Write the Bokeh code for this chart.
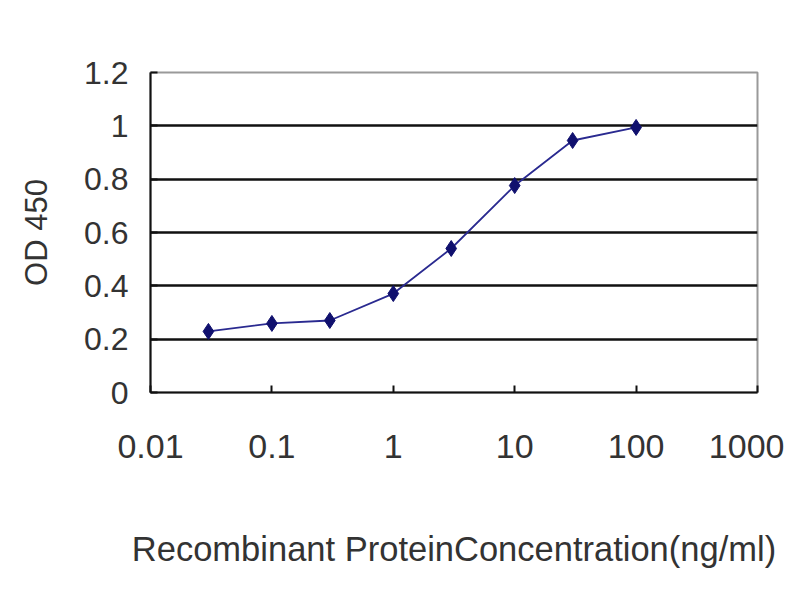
from bokeh.plotting import figure
from bokeh.embed import file_html
from bokeh.resources import INLINE
from bokeh.models import FixedTicker, NumeralTickFormatter, Range1d

conc = [0.03, 0.1, 0.3, 1, 3, 10, 30, 100]
od450 = [0.229, 0.259, 0.270, 0.371, 0.540, 0.776, 0.945, 0.994]
x_ticks = [0.01, 0.1, 1, 10, 100, 1000]
y_ticks = [0, 0.2, 0.4, 0.6, 0.8, 1.0, 1.2]

p = figure(width=784, height=584, x_axis_type="log",
           x_range=Range1d(0.01, 1000), y_range=Range1d(0, 1.2),
           output_backend="svg", toolbar_location=None,
           min_border_left=150, min_border_right=27,
           min_border_top=72, min_border_bottom=192)

p.background_fill_color = "white"
p.border_fill_color = "white"
p.outline_line_color = "#9a9a9a"
p.outline_line_width = 2

p.xgrid.grid_line_color = None
p.ygrid.ticker = FixedTicker(ticks=[0.2, 0.4, 0.6, 0.8, 1.0])
p.ygrid.grid_line_color = "#111111"
p.ygrid.grid_line_width = 2.5

for ax in (p.xaxis[0], p.yaxis[0]):
    ax.axis_line_color = "#111111"
    ax.axis_line_width = 2
    ax.major_tick_line_color = "#111111"
    ax.major_tick_line_width = 2
    ax.major_tick_in = 7
    ax.major_tick_out = 0
    ax.minor_tick_line_color = None
    ax.major_label_text_font = "Liberation Sans"
    ax.major_label_text_color = "#333333"
    ax.axis_label_text_font = "Liberation Sans"
    ax.axis_label_text_color = "#333333"
    ax.axis_label_text_font_style = "normal"

p.xaxis.ticker = FixedTicker(ticks=x_ticks)
p.xaxis.formatter = NumeralTickFormatter(format="0.[00]")
p.xaxis.major_label_text_font_size = "34px"
p.xaxis.major_label_standoff = 42
p.xaxis.axis_label = "Recombinant ProteinConcentration(ng/ml)"
p.xaxis.axis_label_text_font_size = "34.5px"
p.xaxis.axis_label_standoff = 69

p.yaxis.ticker = FixedTicker(ticks=y_ticks)
p.yaxis.formatter = NumeralTickFormatter(format="0.[0]")
p.yaxis.major_label_text_font_size = "32px"
p.yaxis.major_label_standoff = 22
p.yaxis.axis_label = "OD 450"
p.yaxis.axis_label_text_font_size = "31px"
p.yaxis.axis_label_standoff = 27

p.line(conc, od450, line_color="#2a2a90", line_width=1.8)
p.scatter(conc, od450, marker="diamond", size=16,
          fill_color="#10106e", line_color="#10106e")

open("out.html", "w").write(file_html(p, INLINE))
